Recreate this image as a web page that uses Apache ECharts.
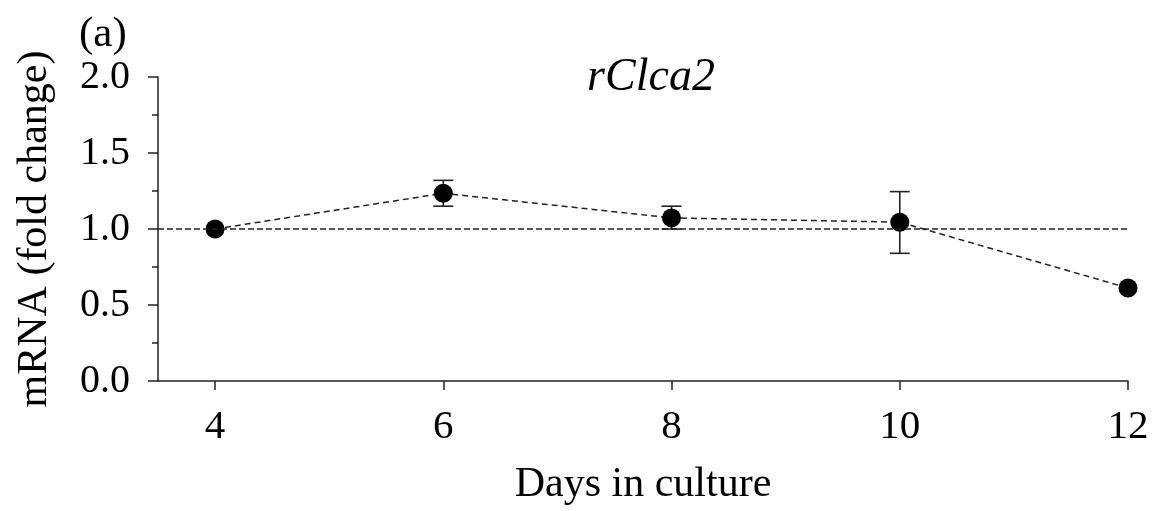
<!DOCTYPE html>
<html>
<head>
<meta charset="utf-8">
<script src="https://cdn.jsdelivr.net/npm/echarts@6/dist/echarts.min.js"></script>
<style>
html,body{margin:0;padding:0;background:#fff;}
#c{width:1156px;height:511px;}
</style>
</head>
<body>
<div id="c"></div>
<script>
const days = [4, 6, 8, 10, 12];
const means = [1.0, 1.235, 1.073, 1.045, 0.612];
const errHigh = [null, 1.32, 1.15, 1.246, null];
const errLow = [null, 1.15, 1.0, 0.84, null];
const xTicks = [4, 6, 8, 10, 12];
const refLevel = 1.0;
const titleText = 'rClca2';
const panelLabel = '(a)';
const xName = 'Days in culture';
const yName = 'mRNA (fold change)';

const FONT = '"Liberation Serif", "DejaVu Serif", serif';
const chart = echarts.init(document.getElementById('c'), null, {renderer: 'canvas'});

const errData = days.map((d, i) => [d, errLow[i], errHigh[i]]).filter(r => r[1] != null);

chart.setOption({
  animation: false,
  backgroundColor: '#fff',
  textStyle: {fontFamily: FONT, color: '#000'},
  title: [
    {text: titleText, left: 646, top: 50, textAlign: 'center',
     textStyle: {fontFamily: FONT, fontStyle: 'italic', fontWeight: 'normal', fontSize: 46, color: '#000'}},
  ],
  graphic: [
    {type: 'text', left: 79, top: 13,
     style: {text: panelLabel, font: '43px ' + FONT, fill: '#000'}}
  ],
  grid: {left: 158, right: 28, top: 77, bottom: 128, containLabel: false},
  xAxis: {
    type: 'value', min: 3.5, max: 12,
    name: xName, nameLocation: 'middle', nameGap: 83,
    nameTextStyle: {fontFamily: FONT, fontSize: 42, color: '#000'},
    axisLine: {show: true, lineStyle: {color: '#222', width: 1.5}},
    axisTick: {show: true, customValues: xTicks, length: 9, inside: false, lineStyle: {color: '#222', width: 1.5}},
    axisLabel: {customValues: xTicks, fontFamily: FONT, fontSize: 41, color: '#000', margin: 26},
    splitLine: {show: false}
  },
  yAxis: {
    type: 'value', min: 0, max: 2, interval: 0.5,
    name: yName, nameLocation: 'middle', nameGap: 102,
    nameTextStyle: {fontFamily: FONT, fontSize: 42, color: '#000'},
    axisLine: {show: true, lineStyle: {color: '#222', width: 1.5}},
    axisTick: {show: true, length: 10, lineStyle: {color: '#222', width: 1.5}},
    minorTick: {show: true, splitNumber: 2, length: 6, lineStyle: {color: '#222', width: 1.5}},
    axisLabel: {fontFamily: FONT, fontSize: 40, color: '#000', margin: 28,
      formatter: v => v.toFixed(1)},
    splitLine: {show: false}
  },
  series: [
    {
      type: 'custom',
      data: errData,
      z: 3,
      renderItem: function (params, api) {
        const x = api.value(0);
        const lo = api.coord([x, api.value(1)]);
        const hi = api.coord([x, api.value(2)]);
        const w = 10;
        const style = {stroke: '#222', lineWidth: 1.6};
        return {
          type: 'group',
          children: [
            {type: 'line', shape: {x1: lo[0], y1: lo[1], x2: hi[0], y2: hi[1]}, style: style},
            {type: 'line', shape: {x1: hi[0] - w, y1: hi[1], x2: hi[0] + w, y2: hi[1]}, style: style},
            {type: 'line', shape: {x1: lo[0] - w, y1: lo[1], x2: lo[0] + w, y2: lo[1]}, style: style}
          ]
        };
      }
    },
    {
      type: 'line',
      data: days.map((d, i) => [d, means[i]]),
      z: 4,
      symbol: 'circle',
      symbolSize: 19,
      itemStyle: {color: '#000'},
      lineStyle: {color: '#222', width: 1.5, type: [6, 4]},
      markLine: {
        silent: true,
        symbol: ['none', 'none'],
        label: {show: false},
        lineStyle: {color: '#222', width: 1.5, type: [6, 3]},
        data: [[{coord: [3.5, refLevel]}, {coord: [12, refLevel]}]]
      }
    }
  ]
});
</script>
</body>
</html>
